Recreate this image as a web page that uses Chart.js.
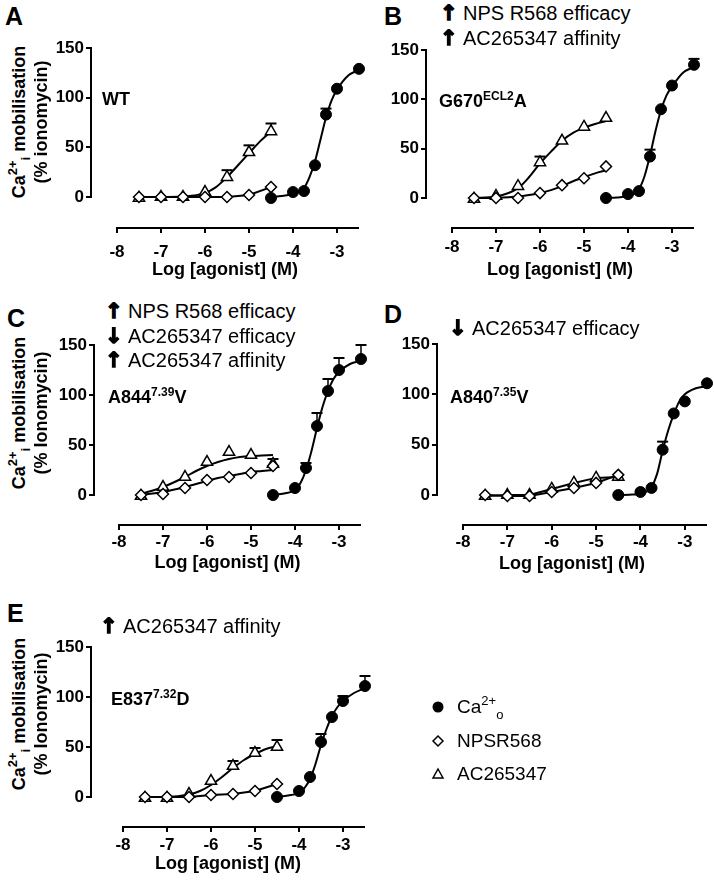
<!DOCTYPE html>
<html>
<head>
<meta charset="utf-8">
<script src="https://cdn.jsdelivr.net/npm/chart.js@4.4.1/dist/chart.umd.min.js"></script>
<style>
  body { margin: 0; background: #fff; }
  #fig { position: relative; width: 714px; height: 880px; overflow: hidden;
         font-family: "Liberation Sans", Arial, sans-serif; color: #000; }
  #fig canvas { position: absolute; }
  .t { position: absolute; white-space: nowrap; line-height: 1; }
  .letter { font-size: 25px; font-weight: bold; }
  .lab { font-size: 18px; font-weight: bold; }
  .lab sup { font-size: 12px; vertical-align: 7px; line-height: 0; }
  .note { font-size: 20px; }
  .ar { display: inline-block; width: 23px; font-family: "DejaVu Sans", sans-serif; font-weight: bold;
        font-size: 21px; -webkit-text-stroke: 1.4px #000; }
  .yt { position: absolute; width: 240px; height: 22px; line-height: 22px; text-align: center;
        font-size: 18px; font-weight: bold; white-space: nowrap; transform: rotate(-90deg); }
  .yt sup { font-size: 13px; vertical-align: 8px; line-height: 0; }
  .yt sub { font-size: 13px; vertical-align: -5px; line-height: 0; }
  .leg { font-size: 19px; }
  .leg sup { font-size: 13px; vertical-align: 8px; line-height: 0; }
  .leg sub { font-size: 13px; vertical-align: -6px; line-height: 0; }
  #legmarks { position: absolute; left: 0; top: 0; }
</style>
</head>
<body>
<div id="fig">
  <canvas id="cA"></canvas>
  <canvas id="cB"></canvas>
  <canvas id="cC"></canvas>
  <canvas id="cD"></canvas>
  <canvas id="cE"></canvas>

  <div class="t letter" style="left:5px;top:4px">A</div>
  <div class="t letter" style="left:384px;top:4px">B</div>
  <div class="t letter" style="left:7px;top:306px">C</div>
  <div class="t letter" style="left:384px;top:302px">D</div>
  <div class="t letter" style="left:7px;top:601px">E</div>

  <div class="yt" style="left:-101px;top:111px">Ca<sup>2+</sup><sub>i</sub> mobilisation</div>
  <div class="yt" style="left:-79px;top:111px">(% ionomycin)</div>
  <div class="yt" style="left:-101px;top:402px">Ca<sup>2+</sup><sub>i</sub> mobilisation</div>
  <div class="yt" style="left:-79px;top:402px">(% Ionomycin)</div>
  <div class="yt" style="left:-101px;top:703px">Ca<sup>2+</sup><sub>i</sub> mobilisation</div>
  <div class="yt" style="left:-79px;top:703px">(% Ionomycin)</div>

  <div class="t lab" style="left:102px;top:90px">WT</div>
  <div class="t lab" style="left:439px;top:92px">G670<sup>ECL2</sup>A</div>
  <div class="t lab" style="left:108px;top:388px">A844<sup>7.39</sup>V</div>
  <div class="t lab" style="left:450px;top:388px">A840<sup>7.35</sup>V</div>
  <div class="t lab" style="left:111px;top:690px">E837<sup>7.32</sup>D</div>

  <div class="t note" style="left:440px;top:3px"><span class="ar">↑</span>NPS R568 efficacy</div>
  <div class="t note" style="left:440px;top:28px"><span class="ar">↑</span>AC265347 affinity</div>
  <div class="t note" style="left:105px;top:301px"><span class="ar">↑</span>NPS R568 efficacy</div>
  <div class="t note" style="left:105px;top:326px"><span class="ar">↓</span>AC265347 efficacy</div>
  <div class="t note" style="left:105px;top:350px"><span class="ar">↑</span>AC265347 affinity</div>
  <div class="t note" style="left:449px;top:318px"><span class="ar">↓</span>AC265347 efficacy</div>
  <div class="t note" style="left:100px;top:616px"><span class="ar">↑</span>AC265347 affinity</div>

  <svg id="legmarks" width="714" height="880">
    <circle cx="438" cy="707" r="5.5" fill="#000"/>
    <polygon points="438,736 443,741 438,746 433,741" fill="#fff" stroke="#000" stroke-width="1.5"/>
    <polygon points="438,769 443,778 433,778" fill="#fff" stroke="#000" stroke-width="1.5"/>
  </svg>
  <div class="t leg" style="left:457px;top:697px">Ca<sup>2+</sup><sub>o</sub></div>
  <div class="t leg" style="left:457px;top:731px">NPSR568</div>
  <div class="t leg" style="left:457px;top:764px">AC265347</div>
</div>

<script>
// axis ticks
const xTicks = [-8, -7, -6, -5, -4, -3];
const xTickLabels = ['-8', '-7', '-6', '-5', '-4', '-3'];
const yTicks = [0, 50, 100, 150];
const yTickLabels = ['0', '50', '100', '150'];

// log concentrations
const drugLog = [-7.5, -7, -6.5, -6, -5.5, -5, -4.5];
const caLog = [-4.5, -4, -3.75, -3.5, -3.25, -3, -2.5];
const drugFitLog = [-7.5, -7, -6.5, -6.25, -6, -5.75, -5.5, -5.25, -5, -4.75, -4.5];
const caFitLog = [-4.5, -4.25, -4, -3.875, -3.75, -3.625, -3.5, -3.375, -3.25, -3.125, -3, -2.75, -2.5];

// A  WT
const wtCa = [-1, 5, 6, 32, 83, 109, 129];
const wtCaErr = [0, 0, 0, 0, 6, 0, 0];
const wtCaFit = [0, 1, 3, 5, 9, 20, 36, 58, 80, 97, 108, 122, 128];
const wtNps = [0, 0, 0, 0, 0, 2, 10];
const wtAc = [-1, 0, 0, 5, 20, 45, 66];
const wtAcErr = [0, 0, 0, 0, 7, 7, 8];
const wtAcFit = [0, 0, 0.5, 1.5, 4, 10, 20, 32, 44, 56, 66];

// B  G670(ECL2)A
const g670Ca = [0, 4, 7, 42, 90, 114, 135];
const g670CaErr = [0, 0, 0, 7, 0, 0, 6];
const g670CaFit = [0, 0.5, 2, 4, 9, 22, 43, 68, 89, 104, 113, 127, 133];
const g670Nps = [0, 0, 0, 5, 13, 20, 32];
const g670NpsFit = [0, 0.3, 1.5, 3, 5, 8, 12, 17, 21, 25, 28];
const g670Ac = [-1, 2, 12, 36, 58, 72, 81];
const g670AcErr = [0, 0, 0, 6, 0, 0, 0];
const g670AcFit = [0, 1.5, 10, 21, 35, 47, 58, 66, 71, 75, 78];

// C  A844(7.39)V
const a844Ca = [0, 7, 27, 69, 104, 125, 136];
const a844CaErr = [0, 0, 5, 13, 12, 12, 14];
const a844CaFit = [0, 1.5, 5, 12, 25, 44, 67, 88, 104, 116, 123, 131, 134];
const a844Nps = [0, 1, 7, 15, 18, 22, 29];
const a844NpsFit = [0, 3, 8, 11, 14, 17, 19, 21, 23, 24, 25];
const a844Ac = [-1, 8, 18, 33, 43, 40, 31];
const a844AcErr = [0, 0, 0, 0, 0, 0, 5];
const a844AcFit = [1, 8, 18, 24, 29, 33, 36, 38, 39, 39.5, 40];

// D  A840(7.35)V
const a840Ca = [0, 3, 7, 45, 81, 93, 111];
const a840CaErr = [0, 0, 0, 8, 0, 0, 0];
const a840CaFit = [0, 0.3, 1, 3, 8, 21, 44, 64, 80, 93, 100, 106, 108];
const a840Nps = [0, -1, -1, 3, 7, 12, 20];
const a840Ac = [-1, 0, 0, 6, 12, 17, 18];

// E  E837(7.32)D
const e837Ca = [0, 6, 20, 55, 80, 96, 111];
const e837CaErr = [0, 0, 0, 8, 0, 5, 10];
const e837CaFit = [0, 1.5, 4, 9, 18, 33, 52, 68, 81, 90, 96, 104, 109];
const e837Nps = [0, 0, 0, 2, 3, 6, 13];
const e837Ac = [-1, -1, 3, 16, 31, 44, 50];
const e837AcErr = [0, 0, 0, 0, 5, 5, 7];
const e837AcFit = [0, 0, 2.5, 6, 12, 20, 29, 37, 43, 48, 51];

Chart.defaults.font.family = '"Liberation Sans", Arial, sans-serif';
Chart.defaults.color = '#000';

const YW = 40, TP = 14, PR = 10;

// draw the axis lines only over 0..150 and -8..-2.5
const axisLines = {
  id: 'axisLines',
  beforeDatasetsDraw(chart) {
    const { ctx, chartArea, scales: { x, y } } = chart;
    ctx.save();
    ctx.strokeStyle = '#000';
    ctx.lineWidth = 2;
    ctx.beginPath();
    ctx.moveTo(chartArea.left, y.getPixelForValue(0) + 1);
    ctx.lineTo(chartArea.left, y.getPixelForValue(150) - 1);
    ctx.moveTo(x.getPixelForValue(-8) - 1, chartArea.bottom);
    ctx.lineTo(x.getPixelForValue(-2.5), chartArea.bottom);
    ctx.stroke();
    ctx.restore();
  }
};

// upper error bars (drawn under the markers)
const errorBars = {
  id: 'errorBars',
  beforeDatasetsDraw(chart) {
    const { ctx, scales: { x, y } } = chart;
    ctx.save();
    ctx.strokeStyle = '#000';
    chart.data.datasets.forEach(ds => {
      if (!ds.errors) return;
      ds.data.forEach((p, i) => {
        const e = ds.errors[i];
        if (!e) return;
        const px = x.getPixelForValue(p.x);
        const y1 = y.getPixelForValue(p.y);
        const y2 = y.getPixelForValue(p.y + e);
        ctx.lineWidth = 1.5;
        ctx.beginPath();
        ctx.moveTo(px, y1);
        ctx.lineTo(px, y2);
        ctx.stroke();
        ctx.lineWidth = 2;
        ctx.beginPath();
        ctx.moveTo(px - 5.5, y2);
        ctx.lineTo(px + 5.5, y2);
        ctx.stroke();
      });
    });
    ctx.restore();
  }
};

const styles = {
  ca:  { shape: 'circle',   r: 5.5, fill: '#000', bw: 1 },
  nps: { shape: 'rectRot',  r: 5.5, fill: '#fff', bw: 1.5 },
  ac:  { shape: 'triangle', r: 6.5, fill: '#fff', bw: 1.5 }
};

function pts(xs, ys) {
  return xs.map((x, i) => ({ x: x, y: ys[i] }));
}

function markerSet(xs, ys, errs, st, joined) {
  return {
    data: pts(xs, ys),
    errors: errs,
    showLine: joined,
    borderColor: '#000',
    borderWidth: 2,
    pointStyle: st.shape,
    pointRadius: st.r,
    pointBackgroundColor: st.fill,
    pointBorderColor: '#000',
    pointBorderWidth: st.bw,
    order: 0,
    clip: false
  };
}

function fitSet(xs, ys) {
  return {
    data: pts(xs, ys),
    showLine: true,
    borderColor: '#000',
    borderWidth: 2,
    pointRadius: 0,
    cubicInterpolationMode: 'monotone',
    order: 5,
    clip: false
  };
}

const panels = [
  { id: 'cA', g: { axisX: 91, x8: 117, x3: 337, y0: 197, y150: 48, axisY: 228 }, tickPad: 9, titleOff: 42,
    sets: [
      markerSet(caLog, wtCa, wtCaErr, styles.ca, false),
      markerSet(drugLog, wtNps, null, styles.nps, true),
      markerSet(drugLog, wtAc, wtAcErr, styles.ac, false),
      fitSet(caFitLog, wtCaFit),
      fitSet(drugFitLog, wtAcFit)
    ] },
  { id: 'cB', g: { axisX: 426, x8: 452, x3: 672, y0: 198, y150: 50, axisY: 228 }, tickPad: 4, titleOff: 42,
    sets: [
      markerSet(caLog, g670Ca, g670CaErr, styles.ca, false),
      markerSet(drugLog, g670Nps, null, styles.nps, false),
      markerSet(drugLog, g670Ac, g670AcErr, styles.ac, false),
      fitSet(caFitLog, g670CaFit),
      fitSet(drugFitLog, g670NpsFit),
      fitSet(drugFitLog, g670AcFit)
    ] },
  { id: 'cC', g: { axisX: 94, x8: 119, x3: 339, y0: 495, y150: 345, axisY: 525 }, tickPad: 2, titleOff: 38,
    sets: [
      markerSet(caLog, a844Ca, a844CaErr, styles.ca, false),
      markerSet(drugLog, a844Nps, null, styles.nps, false),
      markerSet(drugLog, a844Ac, a844AcErr, styles.ac, false),
      fitSet(caFitLog, a844CaFit),
      fitSet(drugFitLog, a844NpsFit),
      fitSet(drugFitLog, a844AcFit)
    ] },
  { id: 'cD', g: { axisX: 437, x8: 463, x3: 685, y0: 495, y150: 344, axisY: 525 }, tickPad: 2, titleOff: 39,
    sets: [
      markerSet(caLog, a840Ca, a840CaErr, styles.ca, false),
      markerSet(drugLog, a840Nps, null, styles.nps, true),
      markerSet(drugLog, a840Ac, null, styles.ac, true),
      fitSet(caFitLog, a840CaFit)
    ] },
  { id: 'cE', g: { axisX: 91, x8: 123, x3: 343, y0: 797, y150: 647, axisY: 827 }, tickPad: 3, titleOff: 37,
    sets: [
      markerSet(caLog, e837Ca, e837CaErr, styles.ca, false),
      markerSet(drugLog, e837Nps, null, styles.nps, true),
      markerSet(drugLog, e837Ac, e837AcErr, styles.ac, false),
      fitSet(caFitLog, e837CaFit),
      fitSet(drugFitLog, e837AcFit)
    ] }
];

panels.forEach(p => {
  const g = p.g;
  const pxX = (g.x3 - g.x8) / 5;
  const pxY = (g.y0 - g.y150) / 150;
  const xRight = g.x8 + 5.5 * pxX;
  const XH = Math.round(p.titleOff + 15);
  const cv = document.getElementById(p.id);
  cv.width = Math.round(YW + (xRight - g.axisX) + PR);
  cv.height = TP + (g.axisY - g.y150) + XH;
  cv.style.left = (g.axisX - YW) + 'px';
  cv.style.top = (g.y150 - TP) + 'px';

  const tickGrid = { drawOnChartArea: false, drawTicks: true, tickLength: 5, color: '#000', lineWidth: 2 };

  new Chart(cv, {
    type: 'scatter',
    data: { datasets: p.sets },
    options: {
      responsive: false,
      animation: false,
      layout: { padding: { top: TP, right: PR, left: 0, bottom: 0 } },
      plugins: { legend: { display: false }, tooltip: { enabled: false } },
      scales: {
        x: {
          type: 'linear',
          min: -8 - (g.x8 - g.axisX) / pxX,
          max: -2.5,
          afterBuildTicks: s => { s.ticks = xTicks.map(v => ({ value: v })); },
          afterFit: s => { s.height = XH; },
          border: { display: false },
          grid: tickGrid,
          ticks: {
            font: { size: 17, weight: 'bold' },
            color: '#000',
            padding: p.tickPad,
            maxRotation: 0,
            autoSkip: false,
            callback: v => xTickLabels[xTicks.indexOf(v)]
          },
          title: {
            display: true,
            text: 'Log [agonist] (M)',
            font: { size: 18, weight: 'bold' },
            color: '#000',
            padding: { top: 0, bottom: 4 }
          }
        },
        y: {
          type: 'linear',
          min: -(g.axisY - g.y0) / pxY,
          max: 150,
          afterBuildTicks: s => { s.ticks = yTicks.map(v => ({ value: v })); },
          afterFit: s => { s.width = YW; },
          border: { display: false },
          grid: tickGrid,
          ticks: {
            font: { size: 17, weight: 'bold' },
            color: '#000',
            padding: 2,
            callback: v => yTickLabels[yTicks.indexOf(v)]
          }
        }
      }
    },
    plugins: [axisLines, errorBars]
  });
});
</script>
</body>
</html>
